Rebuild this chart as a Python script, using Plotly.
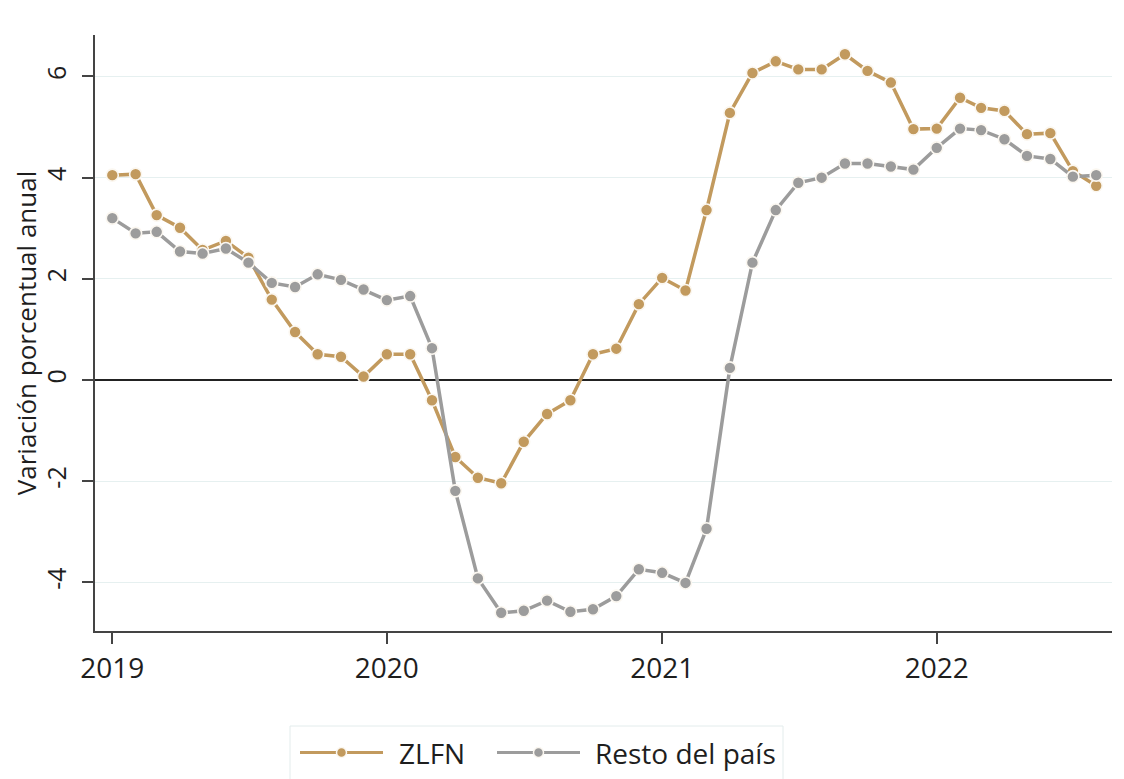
import plotly.graph_objects as go
import pandas as pd

months = pd.date_range("2019-01-01", periods=44, freq="MS").strftime("%Y-%m-%d").tolist()

zlfn = [4.05, 4.07, 3.26, 3.01, 2.57, 2.75, 2.42, 1.59, 0.95, 0.51, 0.46, 0.07,
        0.51, 0.51, -0.40, -1.52, -1.93, -2.04, -1.22, -0.67, -0.40, 0.51, 0.62, 1.50,
        2.02, 1.77, 3.36, 5.28, 6.07, 6.30, 6.14, 6.14, 6.44, 6.11, 5.88, 4.96,
        4.97, 5.58, 5.38, 5.32, 4.86, 4.88, 4.13, 3.84]

resto = [3.20, 2.90, 2.93, 2.54, 2.50, 2.60, 2.32, 1.92, 1.84, 2.09, 1.98, 1.79,
         1.58, 1.66, 0.63, -2.19, -3.92, -4.60, -4.56, -4.36, -4.58, -4.53, -4.27, -3.74,
         -3.81, -4.01, -2.94, 0.24, 2.32, 3.36, 3.90, 4.00, 4.28, 4.28, 4.22, 4.16,
         4.59, 4.97, 4.94, 4.76, 4.43, 4.37, 4.02, 4.05]

series_names = ["ZLFN", "Resto del país"]
y_ticks = [-4, -2, 0, 2, 4, 6]
x_ticks = ["2019-01-01", "2020-01-01", "2021-01-01", "2022-01-01"]
x_tick_labels = ["2019", "2020", "2021", "2022"]

GOLD = "#c29a5e"
GRAY = "#9c9c9c"
FONT = "Open Sans"
TXT = "#1e1e1e"

# page body has an 8px margin, so the figure is drawn at (8, 8)
OFF = 8
W, H = 1124 - OFF, 779 - OFF
L, R, T, B = 95 - OFF, 12, 35 - OFF, 148
PW, PH = W - L - R, H - T - B


def px_x(px):
    return (px - OFF - L) / PW


def px_y(py):
    return (H - B - (py - OFF)) / PH


fig = go.Figure()
for name, vals, col in [(series_names[0], zlfn, GOLD), (series_names[1], resto, GRAY)]:
    fig.add_trace(go.Scatter(
        x=months, y=vals, name=name, mode="lines+markers",
        line=dict(color=col, width=3.5),
        marker=dict(size=12, color=col, line=dict(color="#fbf7f0", width=1.6)),
        showlegend=False,
    ))

# manual legend (box, line symbols, labels)
shapes = [dict(type="rect", xref="paper", yref="paper",
               x0=px_x(290), x1=px_x(783), y0=px_y(800), y1=px_y(726),
               line=dict(color="#e3ecec", width=1), fillcolor="rgba(0,0,0,0)", layer="above")]
annotations = []
legend_items = [(series_names[0], GOLD, 300, 383, 397), (series_names[1], GRAY, 497, 580, 593)]
ly = 752.5
for name, col, lx0, lx1, tx in legend_items:
    shapes.append(dict(type="line", xref="paper", yref="paper",
                       x0=px_x(lx0), x1=px_x(lx1), y0=px_y(ly), y1=px_y(ly),
                       line=dict(color=col, width=3.2)))
    cx = (lx0 + lx1) / 2
    shapes.append(dict(type="circle", xref="paper", yref="paper",
                       xsizemode="pixel", ysizemode="pixel",
                       xanchor=px_x(cx), yanchor=px_y(ly),
                       x0=-5, x1=5, y0=-5, y1=5,
                       fillcolor=col, line=dict(color="#fbf7f0", width=1.5)))
    annotations.append(dict(text=name, xref="paper", yref="paper",
                            x=px_x(tx), y=px_y(ly), xanchor="left", yanchor="middle",
                            showarrow=False, font=dict(size=28, family=FONT, color=TXT)))

fig.update_layout(
    width=W, height=H,
    margin=dict(l=L, r=R, t=T, b=B),
    paper_bgcolor="white", plot_bgcolor="white",
    font=dict(family=FONT, color=TXT),
    showlegend=False,
    shapes=shapes,
    annotations=annotations,
)

fig.update_xaxes(
    type="date",
    range=["2018-12-09", "2022-08-22"],
    tickvals=x_ticks, ticktext=x_tick_labels,
    showgrid=False, zeroline=False,
    showline=True, linecolor="#444444", linewidth=2,
    ticks="outside", ticklen=11, tickwidth=2, tickcolor="#444444",
    tickfont=dict(size=28, family=FONT, color=TXT),
    automargin=False,
)

fig.update_yaxes(
    range=[-4.96, 6.82],
    tickvals=y_ticks, ticktext=[str(v) for v in y_ticks],
    tickangle=-90,
    showgrid=True, gridcolor="#e6f0f0", gridwidth=1,
    zeroline=True, zerolinecolor="#222222", zerolinewidth=2,
    showline=True, linecolor="#444444", linewidth=2,
    ticks="outside", ticklen=11, tickwidth=2, tickcolor="#444444",
    tickfont=dict(size=25, family=FONT, color=TXT),
    ticklabelstandoff=6,
    title=dict(text="Variación porcentual anual", font=dict(size=26, family=FONT, color=TXT), standoff=0),
    automargin=False,
)

fig.write_html("out.html")
